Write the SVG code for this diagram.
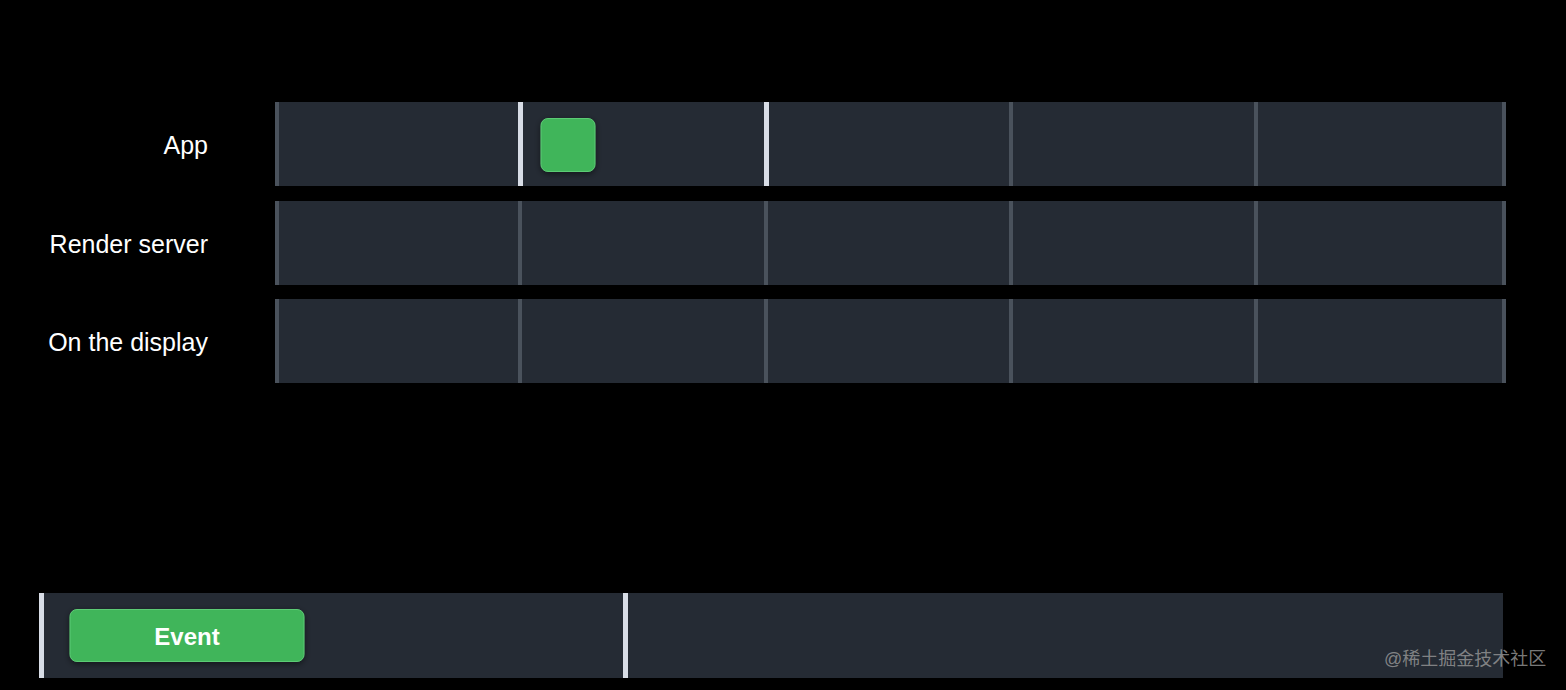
<svg xmlns="http://www.w3.org/2000/svg" width="1566" height="690" viewBox="0 0 1566 690">
<defs>
<style>
.lane{fill:#252b34}
.div{fill:#4a525c}
.cur{fill:#d8dde6}
.lbl{font-family:"Liberation Sans",Arial,sans-serif;font-size:25px;fill:#ffffff;text-anchor:end}
.green{fill:#41b55a;stroke:#5ccb74;stroke-width:1}
.btn{font-family:"Liberation Sans",Arial,sans-serif;font-size:24px;font-weight:bold;fill:#ffffff;text-anchor:middle}
.wm{font-family:"Liberation Sans","Noto Sans CJK SC",sans-serif;font-size:18px;fill:#9a9a9a;fill-opacity:0.8}
</style>
<filter id="sh" x="-30%" y="-30%" width="160%" height="160%">
<feDropShadow dx="0" dy="2" stdDeviation="3" flood-color="#000" flood-opacity="0.5"/>
</filter>
</defs>
<rect width="1566" height="690" fill="#000"/>
<g id="lane-app">
<rect class="lane" x="275" y="102" width="1231" height="84"/>
<rect class="div" x="275" y="102" width="4" height="84"/>
<rect class="cur" x="518" y="102" width="5" height="84"/>
<rect class="cur" x="764" y="102" width="5" height="84"/>
<rect class="div" x="1009" y="102" width="4" height="84"/>
<rect class="div" x="1254" y="102" width="4" height="84"/>
<rect class="div" x="1502" y="102" width="4" height="84"/>
<text class="lbl" x="208" y="154">App</text>
</g>
<g id="lane-render">
<rect class="lane" x="275" y="201" width="1231" height="84"/>
<rect class="div" x="275" y="201" width="4" height="84"/>
<rect class="div" x="518" y="201" width="4" height="84"/>
<rect class="div" x="764" y="201" width="4" height="84"/>
<rect class="div" x="1009" y="201" width="4" height="84"/>
<rect class="div" x="1254" y="201" width="4" height="84"/>
<rect class="div" x="1502" y="201" width="4" height="84"/>
<text class="lbl" x="208" y="253">Render server</text>
</g>
<g id="lane-display">
<rect class="lane" x="275" y="299" width="1231" height="84"/>
<rect class="div" x="275" y="299" width="4" height="84"/>
<rect class="div" x="518" y="299" width="4" height="84"/>
<rect class="div" x="764" y="299" width="4" height="84"/>
<rect class="div" x="1009" y="299" width="4" height="84"/>
<rect class="div" x="1254" y="299" width="4" height="84"/>
<rect class="div" x="1502" y="299" width="4" height="84"/>
<text class="lbl" x="208" y="351">On the display</text>
</g>
<g id="frame-block">
<rect class="green" x="541" y="118.5" width="54" height="53" rx="7" filter="url(#sh)"/>
</g>
<g id="event-bar">
<rect class="lane" x="39" y="593" width="1464" height="85"/>
<rect class="cur" x="39" y="593" width="5" height="85"/>
<rect class="cur" x="623" y="593" width="5" height="85"/>
</g>
<g id="event">
<rect class="green" x="70" y="609.5" width="234" height="52" rx="7" filter="url(#sh)"/>
<text class="btn" x="187" y="645">Event</text>
</g>
<g id="connectors"/>
<text class="wm" x="1384" y="665">@稀土掘金技术社区</text>
</svg>
